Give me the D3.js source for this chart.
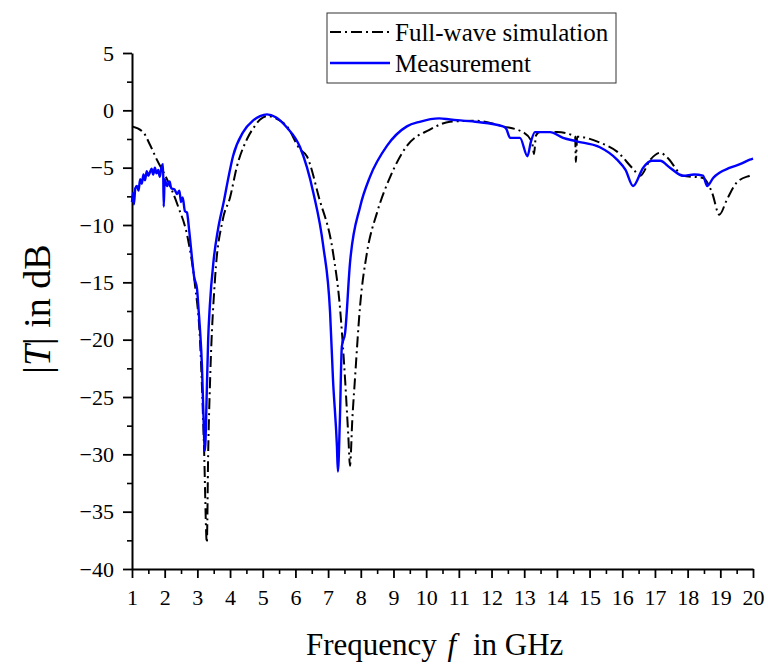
<!DOCTYPE html>
<html>
<head>
<meta charset="utf-8">
<script src="https://cdn.jsdelivr.net/npm/d3@7"></script>
<style>
  body { margin: 0; background: white; }
  svg text { font-family: 'Liberation Serif', 'DejaVu Serif', 'Times New Roman', serif; }
</style>
</head>
<body>
<div id="chart"></div>
<script>
// full-wave simulation, |T| in dB
var simFreq = [1.0, 1.34, 1.55, 1.76, 2.07, 2.4, 2.71, 2.93, 3.08, 3.2, 3.29, 3.33, 3.39, 3.54, 3.78, 4.0, 4.21, 4.52, 4.75, 4.92, 5.13, 5.4, 5.74, 6.14, 6.35, 6.72, 7.15, 7.36, 7.52, 7.62, 7.67, 7.74, 7.82, 7.98, 8.19, 8.5, 8.9, 9.41, 10.1, 10.73, 11.5, 12.35, 12.96, 13.24, 13.3, 13.36, 13.48, 14.0, 14.5, 14.56, 14.58, 14.62, 15.3, 15.84, 16.33, 16.55, 16.86, 17.16, 17.37, 17.86, 18.47, 18.75, 18.97, 19.2, 19.5, 19.9, 20.0]
var simTdB = [-1.4, -1.9, -3.0, -4.3, -6.0, -8.3, -11.2, -15.3, -20, -29, -37.7, -30, -23.5, -14.7, -9.5, -7.6, -4.9, -2.5, -1.4, -0.8, -0.5, -0.7, -1.4, -3.4, -4.0, -7.6, -12.4, -17.1, -23.5, -28.5, -31.0, -27, -23.5, -17, -12.4, -8.9, -5.8, -3.1, -1.7, -1.0, -0.9, -1.4, -1.9, -2.8, -3.8, -2.2, -1.9, -1.9, -2.2, -2.3, -4.5, -2.3, -2.8, -3.6, -5.1, -5.7, -4.3, -3.7, -4.1, -5.7, -5.9, -7.2, -9.1, -7.8, -6.3, -5.7, -5.6]

// measurement, |T| in dB
var measFreq = [1.0, 1.03, 1.06, 1.1, 1.15, 1.2, 1.25, 1.3, 1.35, 1.4, 1.45, 1.5, 1.55, 1.6, 1.65, 1.7, 1.75, 1.8, 1.85, 1.9, 1.95, 1.97, 2.0, 2.07, 2.15, 2.2, 2.3, 2.38, 2.45, 2.5, 2.55, 2.62, 2.68, 2.75, 2.84, 2.9, 2.99, 3.04, 3.08, 3.14, 3.18, 3.23, 3.29, 3.33, 3.38, 3.5, 3.63, 3.82, 3.94, 4.09, 4.4, 4.7, 4.92, 5.13, 5.4, 5.74, 6.14, 6.55, 6.85, 7.06, 7.15, 7.27, 7.3, 7.36, 7.42, 7.52, 7.67, 7.98, 8.28, 8.8, 9.41, 9.8, 10.4, 10.73, 11.5, 12.35, 12.45, 12.57, 12.87, 13.1, 13.2, 13.33, 13.79, 14.19, 14.6, 15.3, 15.84, 16.1, 16.33, 16.64, 16.9, 17.16, 17.46, 17.86, 18.2, 18.47, 18.6, 18.78, 19.3, 19.6, 19.9, 20.0]
var measTdB = [-8.0, -7.2, -8.2, -6.8, -6.6, -7.0, -6.0, -6.4, -5.6, -6.1, -5.3, -5.7, -5.4, -5.1, -5.6, -5.0, -5.5, -5.2, -5.8, -5.0, -4.7, -8.4, -6.0, -6.6, -6.2, -6.8, -6.9, -7.3, -7.0, -8.0, -7.6, -8.8, -8.9, -10.5, -13, -14.5, -15.6, -17.5, -19.1, -22.3, -26, -29.7, -24.3, -20, -17.1, -13, -10.4, -7.8, -6.0, -4.0, -1.9, -0.9, -0.5, -0.35, -0.6, -1.5, -3.2, -7.2, -11.8, -17.6, -23.5, -29.3, -31.5, -27, -20.6, -19.4, -13.3, -8.4, -5.8, -3.1, -1.4, -1.0, -0.7, -0.8, -1.0, -1.4, -1.6, -2.4, -2.4, -4.0, -2.8, -1.9, -1.9, -2.4, -2.7, -3.2, -4.3, -5.2, -6.6, -5.0, -4.4, -4.4, -5.0, -5.7, -5.6, -5.7, -6.6, -5.9, -5.0, -4.7, -4.3, -4.2]

var xTicks = d3.range(1, 21)
var yTicks = [5, 0, -5, -10, -15, -20, -25, -30, -35, -40]
var legendNames = ["Full-wave simulation", "Measurement"]

var serif = "'Liberation Serif', 'DejaVu Serif', 'Times New Roman', serif"

var svg = d3.select("#chart").append("svg")
  .attr("width", 768)
  .attr("height", 666)
  .attr("font-family", serif)

var x = d3.scaleLinear()
  .domain([1, 20])
  .range([132, 753])

var y = d3.scaleLinear()
  .domain([-40, 5])
  .range([569, 53])

// minor ticks first, then major axis on top
svg.append("g")
  .attr("transform", "translate(0,569)")
  .call(d3.axisBottom(x).tickValues(d3.range(1.5, 20, 1)).tickSize(5).tickFormat(""))
  .call(g => g.select(".domain").remove())
  .call(g => g.selectAll("line").attr("stroke-width", 1.6))

svg.append("g")
  .attr("transform", "translate(132,0)")
  .call(d3.axisLeft(y).tickValues(d3.range(2.5, -40, -5)).tickSize(5).tickFormat(""))
  .call(g => g.select(".domain").remove())
  .call(g => g.selectAll("line").attr("stroke-width", 1.6))

var xAxis = svg.append("g")
  .attr("transform", "translate(0,569)")
  .call(d3.axisBottom(x).tickValues(xTicks).tickSize(9).tickSizeOuter(0).tickPadding(11))
xAxis.attr("font-family", serif).attr("font-size", 22)
xAxis.select(".domain").attr("stroke-width", 2)
xAxis.selectAll("line").attr("stroke-width", 1.8)
xAxis.selectAll("text").attr("fill", "black")

var yAxis = svg.append("g")
  .attr("transform", "translate(132,0)")
  .call(d3.axisLeft(y).tickValues(yTicks).tickSize(9).tickSizeOuter(0).tickPadding(9))
yAxis.attr("font-family", serif).attr("font-size", 22)
yAxis.select(".domain").attr("stroke-width", 2)
yAxis.selectAll("line").attr("stroke-width", 1.8)
yAxis.selectAll("text").attr("fill", "black")

var line = d3.line()
  .x(d => x(d[0]))
  .y(d => y(d[1]))
  .curve(d3.curveMonotoneX)

var simData = simFreq.map((f, i) => [f, simTdB[i]])
var measData = measFreq.map((f, i) => [f, measTdB[i]])

svg.append("path")
  .datum(simData)
  .attr("d", line)
  .attr("fill", "none")
  .attr("stroke", "black")
  .attr("stroke-width", 2)
  .attr("stroke-dasharray", "11,4,2,4")

svg.append("path")
  .datum(measData)
  .attr("d", line)
  .attr("fill", "none")
  .attr("stroke", "#0000ff")
  .attr("stroke-width", 2.4)
  .attr("stroke-linejoin", "round")

// legend
svg.append("rect")
  .attr("x", 327)
  .attr("y", 13)
  .attr("width", 289)
  .attr("height", 70)
  .attr("fill", "white")
  .attr("stroke", "#333")
  .attr("stroke-width", 1)

var legendStyles = [
  { color: "black", dash: "11,4,2,4", width: 2 },
  { color: "#0000ff", dash: null, width: 2.4 }
]

legendNames.forEach(function (name, i) {
  var ly = 32 + i * 31
  svg.append("line")
    .attr("x1", 330)
    .attr("x2", 390)
    .attr("y1", ly)
    .attr("y2", ly)
    .attr("stroke", legendStyles[i].color)
    .attr("stroke-width", legendStyles[i].width)
    .attr("stroke-dasharray", legendStyles[i].dash)
  svg.append("text")
    .text(name)
    .attr("x", 395)
    .attr("y", ly + 9)
    .attr("font-size", 25)
    .attr("fill", "black")
})

// axis titles
var xTitle = svg.append("text")
  .attr("x", 306)
  .attr("y", 655)
  .attr("font-size", 31)
xTitle.append("tspan").text("Frequency ")
xTitle.append("tspan").text("f").attr("font-style", "italic").attr("dx", 3)
xTitle.append("tspan").text(" in GHz").attr("dx", 9)

var yTitle = svg.append("text")
  .attr("transform", "translate(50,309) rotate(-90)")
  .attr("text-anchor", "middle")
  .attr("font-size", 38)
yTitle.append("tspan").text("|")
yTitle.append("tspan").text("T").attr("font-style", "italic")
yTitle.append("tspan").text("| in dB")
</script>
</body>
</html>
